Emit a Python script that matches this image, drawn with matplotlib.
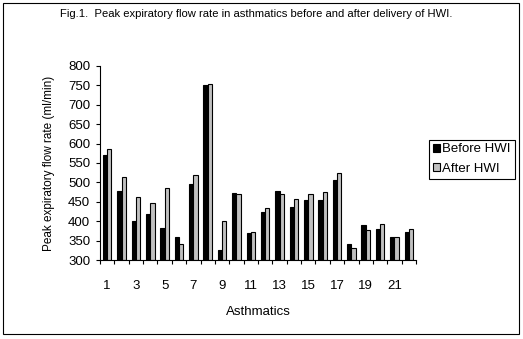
import matplotlib.pyplot as plt
import numpy as np
from matplotlib.patches import Rectangle

plt.rcParams['font.family'] = ['Liberation Sans', 'DejaVu Sans']

# PEFR (ml/min) for 22 asthmatics
patients = np.arange(1, 23)
before_hwi = [570, 478, 401, 419, 383, 360, 496, 750, 326, 473, 370,
              425, 478, 438, 455, 455, 506, 342, 391, 381, 360, 372]
after_hwi = [585, 513, 462, 446, 487, 341, 519, 752, 401, 470, 373,
             434, 470, 457, 470, 475, 524, 332, 378, 393, 360, 380]
y_ticks = np.arange(300, 801, 50)

W, H = 523, 339
fig = plt.figure(figsize=(W / 100, H / 100), dpi=100)

# outer frame like the original chart area
fig.patches.append(Rectangle((3 / W, 5 / H), 516 / W, 331 / H,
                             transform=fig.transFigure, fill=False,
                             edgecolor='black', linewidth=0.8))

ax = fig.add_axes([100 / W, 78.7 / H, 316 / W, 194.6 / H])
x = np.arange(len(patients))
bw = 0.3
ax.bar(x - bw / 2, np.array(before_hwi) - 300, bw, bottom=300, color='black',
       edgecolor='black', linewidth=0.8, label='Before HWI')
ax.bar(x + bw / 2, np.array(after_hwi) - 300, bw, bottom=300, color='#c0c0c0',
       edgecolor='black', linewidth=0.8, label='After HWI')

ax.set_xlim(-0.5, len(patients) - 0.5)
ax.set_ylim(300, 800)
ax.set_yticks(y_ticks)
ax.set_yticklabels([str(v) for v in y_ticks], fontsize=9.5)
ax.set_xticks(x[::2])
ax.set_xticklabels([str(p) for p in patients[::2]], fontsize=9.5)
ax.set_xticks(np.arange(-0.5, len(patients)), minor=True)
ax.tick_params(axis='x', which='major', length=0, pad=14)
ax.tick_params(axis='x', which='minor', length=3, width=0.8, direction='out')
ax.tick_params(axis='y', length=3, width=0.8, direction='out', pad=4)
for side in ['top', 'right']:
    ax.spines[side].set_visible(False)
for side in ['left', 'bottom']:
    ax.spines[side].set_linewidth(0.8)

ax.set_xlabel('Asthmatics', fontsize=9.5)
ax.xaxis.set_label_coords(158 / 316, -46 / 194.6)
ax.set_ylabel('Peak expiratory flow rate (ml/min)', fontsize=8.5)
ax.yaxis.set_label_coords(-45 / 316, 0.5)

fig.text(60 / W, 1 - 14 / H,
         'Fig.1.  Peak expiratory flow rate in asthmatics before and after delivery of HWI.',
         fontsize=8.1, va='center', ha='left')

leg = fig.legend(loc='upper left', bbox_to_anchor=(429 / W, 1 - 139.5 / H),
                 fontsize=9.5, frameon=True, fancybox=False, framealpha=1,
                 edgecolor='black', handlelength=0.55, handleheight=0.55,
                 handletextpad=0.15, borderpad=0.3, labelspacing=0.55,
                 borderaxespad=0)
leg.get_frame().set_linewidth(0.8)

fig.savefig('out.png', dpi=100)
